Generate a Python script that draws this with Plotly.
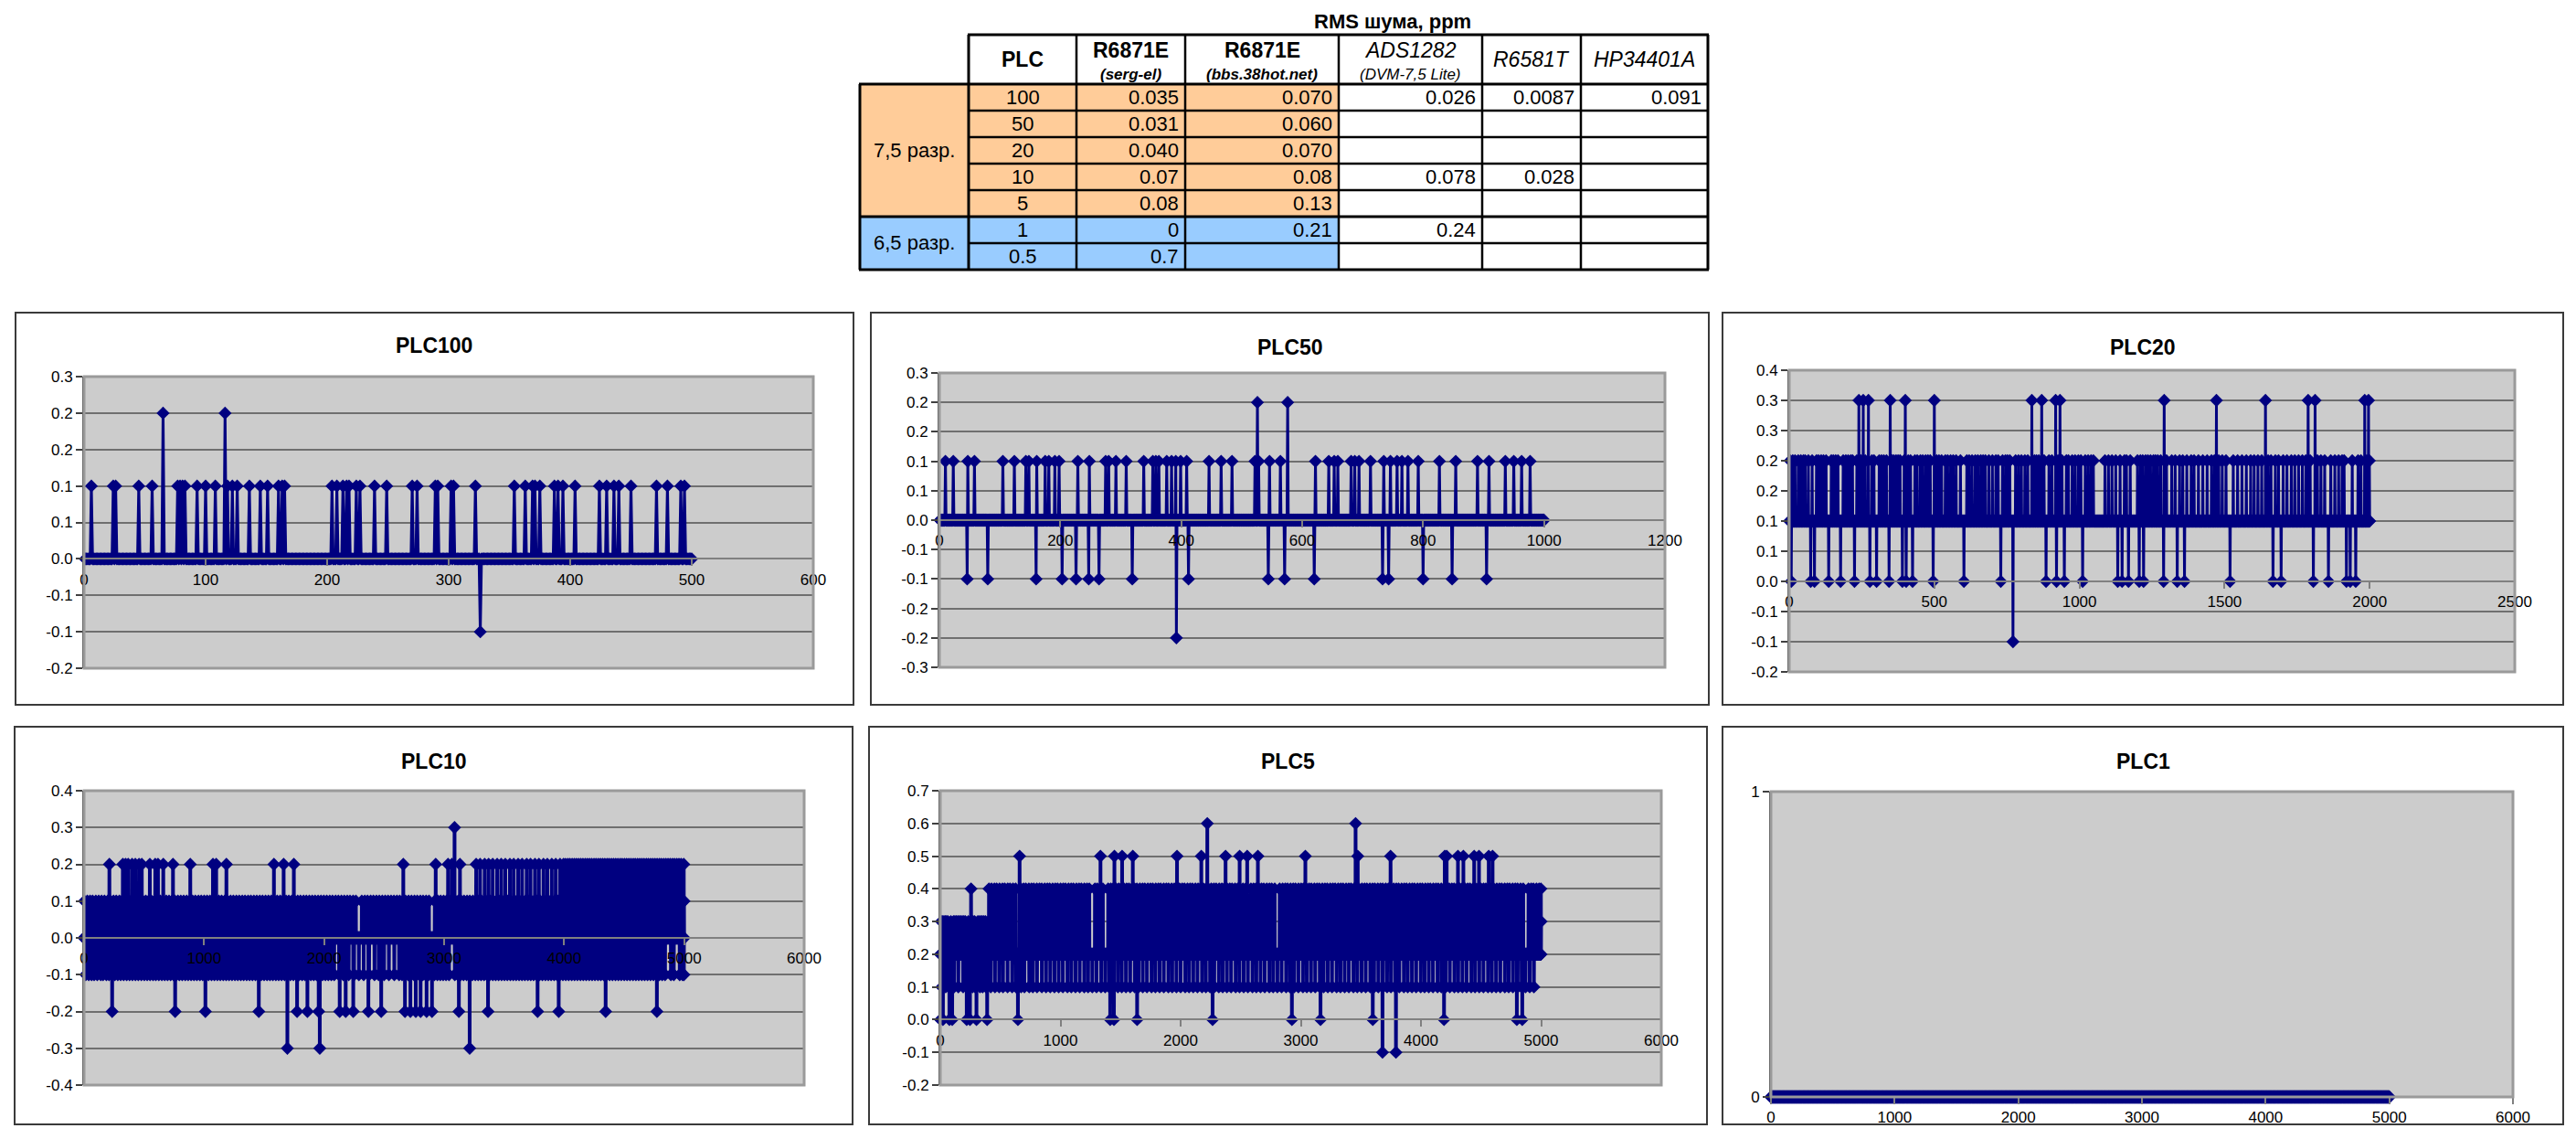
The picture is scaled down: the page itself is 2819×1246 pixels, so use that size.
import plotly.graph_objects as go

W, H = 2819, 1246
FONT = "Liberation Sans, Arial, sans-serif"
NAVY = "#000080"

# ---------------- table data ----------------
table_title = "RMS шума, ppm"
group_labels = ["7,5 разр.", "6,5 разр."]
group_spans = [5, 2]
group_colors = ["#FFCC99", "#99CCFF"]
plc_labels = ["100", "50", "20", "10", "5", "1", "0.5"]
col_headers = ["PLC", "R6871E", "R6871E", "ADS1282", "R6581T", "HP34401A"]
col_subheaders = ["", "(serg-el)", "(bbs.38hot.net)", "(DVM-7,5 Lite)", "", ""]
col_bold = [True, True, True, False, False, False]
rms_serg_el = ["0.035", "0.031", "0.040", "0.07", "0.08", "0", "0.7"]
rms_bbs = ["0.070", "0.060", "0.070", "0.08", "0.13", "0.21", ""]
rms_ads1282 = ["0.026", "", "", "0.078", "", "0.24", ""]
rms_r6581t = ["0.0087", "", "", "0.028", "", "", ""]
rms_hp34401a = ["0.091", "", "", "", "", "", ""]

# ---------------- series data (sample index lists per level) ----------------
plc100_n, plc100_base = 500, 0.0
plc100_p01 = [6, 24, 26, 45, 56, 77, 79, 81, 83, 93, 100, 108, 118, 122, 126, 136, 145, 151, 160, 163, 165,
              204, 208, 213, 216, 218, 224, 227, 239, 249, 270, 274, 289, 291, 302, 304, 322, 354, 363, 369,
              371, 375, 387, 390, 394, 404, 424, 430, 436, 440, 450, 471, 480, 491, 494]
plc100_p02 = [65, 116]
plc100_m01 = [326]

plc50_n, plc50_base = 1000, 0.0
plc50_p01 = [10, 23, 47, 58, 105, 124, 143, 148, 161, 175, 181, 191, 198, 229, 248, 275, 280, 292, 309, 338,
             353, 358, 363, 376, 384, 391, 399, 409, 446, 466, 484, 522, 528, 546, 564, 622, 644, 653, 659,
             681, 687, 694, 713, 735, 746, 757, 765, 775, 792, 827, 854, 890, 909, 936, 950, 963, 977]
plc50_p02 = [526, 576]
plc50_m01 = [46, 80, 160, 203, 226, 247, 264, 319, 412, 544, 571, 620, 733, 743, 800, 848, 905]
plc50_m02 = [392]

plc20_n, plc20_base = 2000, 0.1
plc20_p02 = [3, 12, 20, 31, 40, 49, 55, 66, 79, 94, 101, 110, 118, 127, 145, 152, 160, 168, 186, 195, 203, 212,
             218, 233, 247, 262, 285, 292, 310, 318, 326, 335, 354, 360, 368, 375, 382, 396, 410, 418, 433, 441,
             452, 460, 470, 478, 486, 508, 516, 525, 538, 546, 556, 565, 575, 590, 612, 620, 630, 641, 650, 660,
             668, 676, 688, 700, 712, 720, 735, 745, 752, 760, 780, 790, 800, 812, 822, 845, 852, 860, 878, 895,
             905, 926, 940, 955, 962, 975, 985, 996, 1005, 1020, 1030, 1040, 1048, 1088, 1100, 1112, 1125, 1140,
             1155, 1162, 1175, 1200, 1210, 1218, 1228, 1236, 1245, 1255, 1262, 1270, 1280, 1300, 1318, 1330,
             1345, 1356, 1370, 1385, 1395, 1410, 1425, 1440, 1455, 1465, 1480, 1492, 1505, 1530, 1545, 1560,
             1575, 1590, 1602, 1615, 1628, 1650, 1660, 1675, 1686, 1702, 1715, 1730, 1742, 1755, 1768, 1780,
             1795, 1820, 1832, 1845, 1866, 1880, 1893, 1905, 1912, 1940, 1960, 1970, 1990, 1999]
plc20_p03 = [240, 255, 273, 348, 400, 500, 836, 870, 918, 933, 1292, 1472, 1641, 1788, 1812, 1983, 1996]
plc20_p00 = [7, 74, 87, 136, 177, 225, 278, 301, 344, 390, 403, 425, 496, 602, 729, 885, 921, 948, 1011, 1132,
             1147, 1169, 1206, 1221, 1290, 1337, 1362, 1519, 1667, 1695, 1806, 1858, 1920, 1933, 1952]
plc20_m01 = [771]

plc10_n, plc10_base = 5000, 0.0
plc10_p01 = [3, 27, 50, 71, 98, 122, 146, 170, 197, 219, 245, 268, 294, 317, 343, 366, 391, 415, 440, 466, 489,
             514, 538, 561, 587, 610, 636, 659, 685, 708, 733, 757, 782, 806, 830, 855, 879, 904, 927, 953, 976,
             1001, 1025, 1049, 1074, 1098, 1123, 1146, 1172, 1195, 1221, 1244, 1269, 1293, 1318, 1341, 1367,
             1390, 1415, 1439, 1464, 1487, 1512, 1536, 1560, 1585, 1609, 1634, 1657, 1683, 1706, 1731, 1755,
             1780, 1803, 1829, 1852, 1877, 1901, 1925, 1950, 1974, 1998, 2022, 2047, 2070, 2096, 2119, 2144,
             2168, 2193, 2216, 2242, 2265, 2290, 2314, 2339, 2362, 2388, 2411, 2436, 2460, 2485, 2509, 2533,
             2558, 2582, 2607, 2630, 2656, 2679, 2704, 2728, 2753, 2776, 2802, 2825, 2850, 2874, 2899, 2922,
             2948, 2971, 2996, 3020, 3045, 3068, 3094, 3117, 3142, 3166, 3191, 3214, 3240, 3263, 3288, 3312,
             3337, 3360, 3386, 3409, 3434, 3458, 3483, 3507, 3531, 3556, 3580, 3605, 3628, 3654, 3677, 3702,
             3726, 3751, 3774, 3800, 3823, 3848, 3872, 3897, 3920, 3946, 3969, 3994, 4018, 4043, 4066, 4092,
             4115, 4140, 4164, 4189, 4212, 4238, 4261, 4286, 4310, 4335, 4358, 4384, 4407, 4432, 4456, 4481,
             4505, 4529, 4554, 4578, 4603, 4626, 4652, 4675, 4700, 4724, 4749, 4772, 4798, 4821, 4846, 4870,
             4895, 4918, 4944, 4967, 4992, 4999]
plc10_m01 = [14, 39, 63, 84, 110, 139, 158, 186, 208, 232, 256, 281, 305, 330, 355, 379, 403, 428, 452, 477,
             502, 526, 550, 575, 598, 623, 648, 672, 696, 721, 745, 770, 794, 818, 843, 867, 892, 916, 940, 965,
             989, 1013, 1037, 1062, 1086, 1111, 1135, 1160, 1184, 1208, 1233, 1257, 1281, 1306, 1330, 1355,
             1379, 1403, 1428, 1452, 1476, 1500, 1525, 1549, 1573, 1598, 1622, 1646, 1671, 1695, 1719, 1744,
             1768, 1792, 1817, 1841, 1865, 1890, 1914, 1938, 1962, 1987, 2011, 2035, 2060, 2084, 2125, 2160,
             2205, 2250, 2290, 2330, 2375, 2420, 2455, 2500, 2540, 2585, 2625, 2650, 2676, 2700, 2725, 2749,
             2773, 2798, 2822, 2846, 2871, 2895, 2919, 2944, 2968, 2992, 3016, 3041, 3065, 3089, 3114, 3138,
             3162, 3187, 3211, 3235, 3260, 3284, 3308, 3333, 3357, 3381, 3406, 3430, 3454, 3479, 3503, 3527,
             3552, 3576, 3600, 3625, 3649, 3673, 3698, 3722, 3746, 3771, 3795, 3819, 3844, 3868, 3892, 3917,
             3941, 3965, 3990, 4014, 4038, 4063, 4087, 4111, 4136, 4160, 4184, 4209, 4233, 4257, 4282, 4306,
             4330, 4355, 4379, 4403, 4428, 4452, 4476, 4501, 4525, 4549, 4574, 4598, 4622, 4647, 4671, 4695,
             4720, 4744, 4768, 4793, 4817, 4841, 4866, 4890, 4914, 4939, 4963, 4987, 4998]
plc10_p02 = [211, 323, 346, 368, 400, 427, 458, 481, 548, 593, 616, 660, 741, 885, 1074, 1101, 1186, 1582,
             1663, 1748, 2660, 2930, 3033, 3065, 3132, 3267, 3300, 3338, 3371, 3405, 3442, 3476, 3510, 3548,
             3580, 3617, 3650, 3688, 3720, 3757, 3790, 3828, 3860, 3897, 3930, 3966, 3995, 4012, 4031, 4048,
             4067, 4085, 4103, 4121, 4139, 4157, 4176, 4194, 4212, 4230, 4249, 4266, 4285, 4303, 4321, 4339,
             4358, 4375, 4394, 4412, 4430, 4448, 4467, 4484, 4503, 4521, 4539, 4557, 4576, 4593, 4612, 4630,
             4648, 4666, 4685, 4702, 4721, 4739, 4757, 4775, 4794, 4811, 4830, 4848, 4866, 4884, 4903, 4920,
             4939, 4957, 4975, 4997]
plc10_p03 = [3087]
plc10_m02 = [234, 759, 1011, 1456, 1775, 1861, 1955, 2130, 2180, 2243, 2369, 2476, 2674, 2719, 2764, 2804,
             2854, 2899, 3123, 3366, 3779, 3955, 4346, 4773]
plc10_m03 = [1694, 1964, 3213]

plc5_n, plc5_base = 5000, 0.2
plc5_p03 = [8, 17, 30, 41, 52, 63, 88, 110, 121, 133, 145, 158, 170, 183, 196, 208, 233, 260, 272, 285, 312,
            325, 338, 350, 363, 376, 401, 4990, 5000]
plc5_p04 = [256, 405, 426, 450, 469, 493, 517, 536, 561, 580, 605, 627, 646, 671, 693, 712, 737, 759, 778, 803,
            825, 844, 869, 891, 910, 935, 957, 976, 1001, 1023, 1042, 1067, 1089, 1108, 1133, 1155, 1174, 1199,
            1221, 1240, 1265, 1287, 1306, 1331, 1353, 1372, 1397, 1419, 1438, 1463, 1485, 1504, 1529, 1551,
            1570, 1595, 1617, 1636, 1661, 1683, 1702, 1727, 1749, 1768, 1793, 1815, 1834, 1859, 1881, 1900,
            1925, 1947, 1966, 1991, 2013, 2032, 2057, 2079, 2098, 2123, 2145, 2164, 2189, 2211, 2230, 2255,
            2277, 2296, 2321, 2343, 2362, 2387, 2409, 2428, 2453, 2475, 2494, 2519, 2541, 2560, 2585, 2607,
            2626, 2651, 2673, 2692, 2717, 2739, 2758, 2783, 2805, 2824, 2849, 2871, 2890, 2915, 2937, 2956,
            2981, 3003, 3022, 3047, 3069, 3088, 3113, 3135, 3154, 3179, 3201, 3220, 3245, 3267, 3286, 3311,
            3333, 3352, 3377, 3399, 3418, 3443, 3465, 3484, 3509, 3531, 3550, 3575, 3597, 3616, 3641, 3663,
            3682, 3707, 3729, 3748, 3773, 3795, 3814, 3839, 3861, 3880, 3905, 3927, 3946, 3971, 3993, 4012,
            4037, 4059, 4078, 4103, 4125, 4144, 4169, 4191, 4210, 4235, 4257, 4276, 4301, 4323, 4342, 4367,
            4389, 4408, 4433, 4455, 4474, 4499, 4521, 4540, 4565, 4587, 4606, 4631, 4653, 4672, 4697, 4719,
            4738, 4763, 4785, 4804, 4829, 4851, 4870, 4895, 4917, 4936, 4961, 4983, 4998]
plc5_p01 = [12, 45, 70, 115, 150, 190, 230, 268, 290, 330, 352, 380, 420, 455, 490, 522, 560, 598, 630, 672,
            700, 740, 770, 805, 845, 880, 915, 950, 985, 1020, 1058, 1090, 1125, 1160, 1198, 1230, 1265, 1300,
            1338, 1372, 1405, 1440, 1478, 1510, 1545, 1580, 1618, 1650, 1685, 1720, 1758, 1790, 1825, 1860,
            1898, 1930, 1965, 2000, 2038, 2070, 2105, 2140, 2178, 2210, 2245, 2280, 2318, 2350, 2385, 2420,
            2458, 2490, 2525, 2560, 2598, 2630, 2665, 2700, 2738, 2770, 2805, 2840, 2878, 2910, 2945, 2980,
            3018, 3050, 3085, 3120, 3158, 3190, 3225, 3260, 3298, 3330, 3365, 3400, 3438, 3470, 3505, 3540,
            3578, 3610, 3645, 3684, 3718, 3750, 3785, 3820, 3858, 3890, 3925, 3960, 3998, 4030, 4065, 4100,
            4138, 4170, 4205, 4240, 4278, 4310, 4345, 4380, 4418, 4450, 4485, 4520, 4558, 4590, 4625, 4660,
            4698, 4730, 4765, 4805, 4838, 4870, 4905, 4940]
plc5_p00 = [1, 22, 76, 99, 220, 247, 301, 390, 646, 1414, 1445, 1638, 2266, 2926, 3164, 3599, 4192, 4798, 4843]
plc5_p05 = [660, 1333, 1449, 1513, 1602, 1970, 2172, 2374, 2491, 2554, 2643, 3038, 3474, 3747, 4198, 4214,
            4308, 4353, 4443, 4483, 4564, 4596]
plc5_p06 = [2222, 3456]
plc5_m01 = [3680, 3792]

plc1_n, plc1_base = 5000, 0.0

# ---------------- axis ticks ----------------
x_ticks_600 = [0, 100, 200, 300, 400, 500, 600]
x_ticks_1200 = [0, 200, 400, 600, 800, 1000, 1200]
x_ticks_2500 = [0, 500, 1000, 1500, 2000, 2500]
x_ticks_6000 = [0, 1000, 2000, 3000, 4000, 5000, 6000]

y_vals_plc100 = [-0.15, -0.10, -0.05, 0.0, 0.05, 0.10, 0.15, 0.20, 0.25]
y_text_plc100 = ["-0.2", "-0.1", "-0.1", "0.0", "0.1", "0.1", "0.2", "0.2", "0.3"]
y_vals_plc50 = [-0.25, -0.20, -0.15, -0.10, -0.05, 0.0, 0.05, 0.10, 0.15, 0.20, 0.25]
y_text_plc50 = ["-0.3", "-0.2", "-0.2", "-0.1", "-0.1", "0.0", "0.1", "0.1", "0.2", "0.2", "0.3"]
y_vals_plc20 = [-0.15, -0.10, -0.05, 0.0, 0.05, 0.10, 0.15, 0.20, 0.25, 0.30, 0.35]
y_text_plc20 = ["-0.2", "-0.1", "-0.1", "0.0", "0.1", "0.1", "0.2", "0.2", "0.3", "0.3", "0.4"]
y_vals_plc10 = [-0.4, -0.3, -0.2, -0.1, 0.0, 0.1, 0.2, 0.3, 0.4]
y_text_plc10 = ["-0.4", "-0.3", "-0.2", "-0.1", "0.0", "0.1", "0.2", "0.3", "0.4"]
y_vals_plc5 = [-0.2, -0.1, 0.0, 0.1, 0.2, 0.3, 0.4, 0.5, 0.6, 0.7]
y_text_plc5 = ["-0.2", "-0.1", "0.0", "0.1", "0.2", "0.3", "0.4", "0.5", "0.6", "0.7"]
y_vals_plc1 = [0, 1]
y_text_plc1 = ["0", "1"]


def build_series(n, base, levels):
    y = [base] * n
    for val, idx in levels:
        for i in idx:
            y[i - 1] = val
    return list(range(1, n + 1)), y


series = [
    build_series(plc100_n, plc100_base, [(0.1, plc100_p01), (0.2, plc100_p02), (-0.1, plc100_m01)]),
    build_series(plc50_n, plc50_base, [(0.1, plc50_p01), (-0.1, plc50_m01), (0.2, plc50_p02), (-0.2, plc50_m02)]),
    build_series(plc20_n, plc20_base, [(0.2, plc20_p02), (0.0, plc20_p00), (0.3, plc20_p03), (-0.1, plc20_m01)]),
    build_series(plc10_n, plc10_base, [(0.1, plc10_p01), (-0.1, plc10_m01), (0.2, plc10_p02),
                                       (-0.2, plc10_m02), (-0.3, plc10_m03), (0.3, plc10_p03)]),
    build_series(plc5_n, plc5_base, [(0.3, plc5_p03), (0.4, plc5_p04), (0.1, plc5_p01), (0.0, plc5_p00),
                                     (0.5, plc5_p05), (0.6, plc5_p06), (-0.1, plc5_m01)]),
    build_series(plc1_n, plc1_base, []),
]

# ---------------- panel layout (pixels) ----------------
panels = [
    dict(title="PLC100", box=(17, 342, 934, 771), plot=(92, 412, 890, 731), ty=378, lw=3,
         xr=(0, 600), xt=x_ticks_600, yr=(-0.15, 0.25), yv=y_vals_plc100, yt=y_text_plc100),
    dict(title="PLC50", box=(953, 342, 1870, 771), plot=(1028, 408, 1822, 730), ty=380, lw=3,
         xr=(0, 1200), xt=x_ticks_1200, yr=(-0.25, 0.25), yv=y_vals_plc50, yt=y_text_plc50),
    dict(title="PLC20", box=(1885, 342, 2805, 771), plot=(1958, 405, 2752, 735), ty=380, lw=3,
         xr=(0, 2500), xt=x_ticks_2500, yr=(-0.15, 0.35), yv=y_vals_plc20, yt=y_text_plc20),
    dict(title="PLC10", box=(16, 795, 933, 1230), plot=(92, 865, 880, 1187), ty=833, lw=4,
         xr=(0, 6000), xt=x_ticks_6000, yr=(-0.4, 0.4), yv=y_vals_plc10, yt=y_text_plc10),
    dict(title="PLC5", box=(951, 795, 1868, 1230), plot=(1029, 865, 1818, 1187), ty=833, lw=4,
         xr=(0, 6000), xt=x_ticks_6000, yr=(-0.2, 0.7), yv=y_vals_plc5, yt=y_text_plc5),
    dict(title="PLC1", box=(1885, 795, 2805, 1230), plot=(1938, 866, 2750, 1200), ty=833, lw=3,
         xr=(0, 6000), xt=x_ticks_6000, yr=(0, 1), yv=y_vals_plc1, yt=y_text_plc1),
]


def px(x):
    return x / W


def py(y):
    return 1 - y / H


fig = go.Figure()
shapes = []
annotations = []
layout = dict(width=W, height=H, margin=dict(l=0, r=0, t=0, b=0, pad=0), paper_bgcolor="white",
              plot_bgcolor="#CCCCCC", showlegend=False, template="none",
              font=dict(family=FONT, size=17, color="black"))

for k, (p, (xs, ys)) in enumerate(zip(panels, series), start=1):
    sx = "" if k == 1 else str(k)
    x0, y0, x1, y1 = p["plot"]
    xd = [px(x0), px(x1)]
    yd = [py(y1), py(y0)]
    ymin, ymax = p["yr"]
    pos = yd[0] + (0 - ymin) / (ymax - ymin) * (yd[1] - yd[0])
    layout["xaxis" + sx] = dict(domain=xd, range=list(p["xr"]), anchor="free", position=pos,
                                tickvals=p["xt"], ticktext=[str(v) for v in p["xt"]],
                                showline=True, linecolor="#808080", linewidth=2,
                                ticks="outside", ticklen=7, tickwidth=2, tickcolor="#808080",
                                showgrid=False, zeroline=False, automargin=False,
                                tickfont=dict(family=FONT, size=17, color="black"))
    layout["yaxis" + sx] = dict(domain=yd, range=[ymin, ymax], anchor="x" + sx,
                                tickvals=p["yv"], ticktext=p["yt"],
                                showline=True, linecolor="#404040", linewidth=2,
                                ticks="outside", ticklen=7, tickwidth=2, tickcolor="#404040",
                                showgrid=True, gridcolor="#6f6f6f", gridwidth=1.5,
                                zeroline=False, automargin=False,
                                tickfont=dict(family=FONT, size=17, color="black"))
    fig.add_trace(go.Scatter(x=xs, y=ys, xaxis="x" + sx, yaxis="y" + sx, mode="lines+markers",
                             line=dict(color=NAVY, width=p["lw"], simplify=False),
                             marker=dict(symbol="diamond", size=11, color=NAVY, line=dict(width=0)),
                             cliponaxis=False, hoverinfo="skip"))
    # plot-area border
    shapes.append(dict(type="rect", xref="x" + sx + " domain", yref="y" + sx + " domain",
                       x0=0, x1=1, y0=0, y1=1, line=dict(color="#9a9a9a", width=3), layer="above"))
    # chart frame
    bx0, by0, bx1, by1 = p["box"]
    shapes.append(dict(type="rect", xref="paper", yref="paper", x0=px(bx0), x1=px(bx1),
                       y0=py(by1), y1=py(by0), line=dict(color="#3a3a3a", width=2), layer="below"))
    annotations.append(dict(text="<b>" + p["title"] + "</b>", xref="paper", yref="paper",
                            x=px((bx0 + bx1) / 2), y=py(p["ty"]), xanchor="center", yanchor="middle",
                            showarrow=False, font=dict(family=FONT, size=23, color="black")))

# ---------------- table ----------------
col_edges = [941, 1060, 1178, 1297, 1465, 1622, 1730, 1869]
row_edges = [38, 92, 121, 150, 179, 208, 237, 266, 295]
LW = 2.5

body_cols = [plc_labels, rms_serg_el, rms_bbs, rms_ads1282, rms_r6581t, rms_hp34401a]
row_group = []
for g, span in enumerate(group_spans):
    row_group += [g] * span

# fills
for r in range(len(plc_labels)):
    ya, yb = row_edges[r + 1], row_edges[r + 2]
    for c in range(1, 7):
        fill = group_colors[row_group[r]] if c <= 3 else "white"
        shapes.append(dict(type="rect", xref="paper", yref="paper", x0=px(col_edges[c]), x1=px(col_edges[c + 1]),
                           y0=py(yb), y1=py(ya), fillcolor=fill, line=dict(width=0), layer="below"))
start = 0
for g, span in enumerate(group_spans):
    ya, yb = row_edges[1 + start], row_edges[1 + start + span]
    shapes.append(dict(type="rect", xref="paper", yref="paper", x0=px(col_edges[0]), x1=px(col_edges[1]),
                       y0=py(yb), y1=py(ya), fillcolor=group_colors[g], line=dict(width=0), layer="below"))
    annotations.append(dict(text=group_labels[g], xref="paper", yref="paper",
                            x=px((col_edges[0] + col_edges[1]) / 2), y=py((ya + yb) / 2),
                            xanchor="center", yanchor="middle", showarrow=False,
                            font=dict(family=FONT, size=22, color="black")))
    start += span


def hline(y, xa, xb, w=LW):
    shapes.append(dict(type="line", xref="paper", yref="paper", x0=px(xa), x1=px(xb), y0=py(y), y1=py(y),
                       line=dict(color="black", width=w), layer="above"))


def vline(x, ya, yb, w=LW):
    shapes.append(dict(type="line", xref="paper", yref="paper", x0=px(x), x1=px(x), y0=py(ya), y1=py(yb),
                       line=dict(color="black", width=w), layer="above"))


hline(row_edges[0], col_edges[1] - 1, col_edges[7] + 1, 3)
hline(row_edges[1], col_edges[0] - 1, col_edges[7] + 1, 3)
group_bounds = [1]
acc = 1
for span in group_spans:
    acc += span
    group_bounds.append(acc)
for r in range(2, len(row_edges)):
    if r in group_bounds:
        hline(row_edges[r], col_edges[0] - 1, col_edges[7] + 1, 3)
    else:
        hline(row_edges[r], col_edges[1], col_edges[7])
vline(col_edges[0], row_edges[1], row_edges[-1], 3)
for c in range(1, 8):
    vline(col_edges[c], row_edges[0], row_edges[-1], 3 if c in (1, 7) else LW)

# header texts
for c in range(6):
    cx = px((col_edges[c + 1] + col_edges[c + 2]) / 2)
    head = col_headers[c]
    sub = col_subheaders[c]
    if col_bold[c]:
        head_t = "<b>" + head + "</b>"
        sub_t = "<b><i>" + sub + "</i></b>"
    else:
        head_t = "<i>" + head + "</i>"
        sub_t = "<i>" + sub + "</i>"
    hy = 55 if sub else 65
    annotations.append(dict(text=head_t, xref="paper", yref="paper", x=cx, y=py(hy), xanchor="center",
                            yanchor="middle", showarrow=False, font=dict(family=FONT, size=23, color="black")))
    if sub:
        annotations.append(dict(text=sub_t, xref="paper", yref="paper", x=cx, y=py(81), xanchor="center",
                                yanchor="middle", showarrow=False,
                                font=dict(family=FONT, size=17, color="black")))

annotations.append(dict(text="<b>" + table_title + "</b>", xref="paper", yref="paper",
                        x=px((col_edges[2] + col_edges[7]) / 2), y=py(24), xanchor="center", yanchor="middle",
                        showarrow=False, font=dict(family=FONT, size=22, color="black")))

# body texts
for c, col in enumerate(body_cols):
    for r, txt in enumerate(col):
        if not txt:
            continue
        yc = py((row_edges[r + 1] + row_edges[r + 2]) / 2)
        if c == 0:
            annotations.append(dict(text=txt, xref="paper", yref="paper",
                                    x=px((col_edges[1] + col_edges[2]) / 2), y=yc, xanchor="center",
                                    yanchor="middle", showarrow=False,
                                    font=dict(family=FONT, size=22, color="black")))
        else:
            annotations.append(dict(text=txt, xref="paper", yref="paper", x=px(col_edges[c + 2] - 5), y=yc,
                                    xanchor="right", yanchor="middle", showarrow=False,
                                    font=dict(family=FONT, size=22, color="black")))

layout["shapes"] = shapes
layout["annotations"] = annotations
fig.update_layout(**layout)
fig.write_html("out.html", config={"displayModeBar": False},
               post_script="document.body.style.margin='0';document.body.style.overflow='hidden';")
